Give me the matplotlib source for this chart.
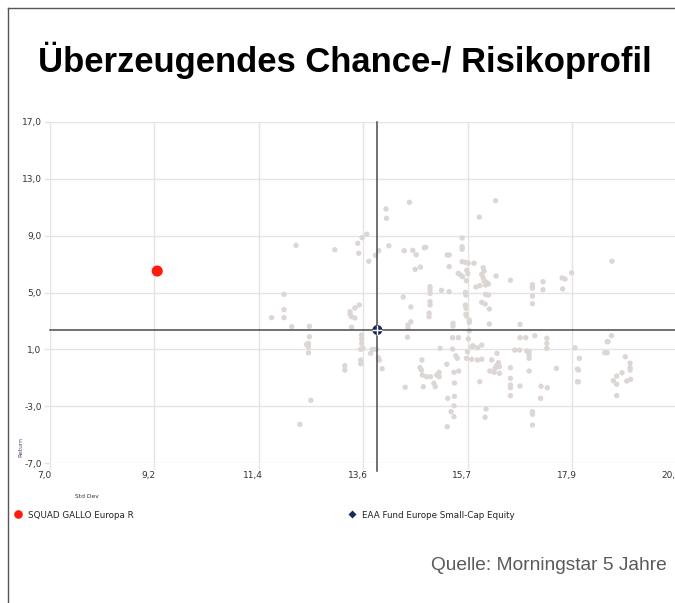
import matplotlib
matplotlib.use("Agg")
import matplotlib.pyplot as plt
from matplotlib.lines import Line2D
from matplotlib.transforms import ScaledTranslation
import numpy as np

W, H, DPI = 675, 603, 100

title = "Überzeugendes Chance-/ Risikoprofil"
source = "Quelle: Morningstar 5 Jahre"
x_label = "Std Dev"
y_label = "Return"
fund_name = "SQUAD GALLO Europa R"
bench_name = "EAA Fund Europe Small-Cap Equity"

fund_std = [9.24]
fund_ret = [6.51]
bench_std = [13.84]
bench_ret = [2.36]

peer_std = [
    12.14, 12.95, 11.89, 11.89, 11.63, 11.89, 12.05, 12.42, 12.42, 12.36,
    12.40, 12.40, 12.40, 12.45, 12.22, 13.16, 13.16, 13.46, 13.37, 13.27,
    13.27, 13.30, 13.37, 13.30, 13.51, 13.51, 13.51, 13.49, 13.54, 13.70,
    13.74, 13.82, 13.86, 13.88, 13.49, 13.49, 13.94, 13.62, 13.52, 13.43,
    13.45, 13.87, 13.80, 13.66, 14.02, 14.03, 14.08, 14.51, 16.31, 15.97,
    15.61, 15.61, 15.61, 14.40, 14.58, 14.65, 14.82, 14.85, 15.30, 15.34,
    15.61, 15.68, 15.74, 15.86, 14.74, 14.63, 15.34, 15.71, 15.73, 15.53,
    15.58, 15.62, 16.05, 16.07, 16.02, 16.05, 16.32, 16.62, 15.70, 16.07,
    16.12, 16.16, 16.10, 15.98, 15.90, 14.94, 14.94, 14.94, 15.18, 15.34,
    15.68, 15.69, 16.10, 16.16, 14.38, 16.02, 16.09, 16.18, 14.94, 14.94,
    14.54, 15.68, 15.69, 14.92, 14.92, 15.69, 18.74, 17.90, 17.70, 17.76,
    17.30, 17.08, 17.08, 17.08, 17.30, 17.71, 17.08, 17.08, 14.54, 14.48,
    14.48, 15.42, 15.42, 15.76, 15.76, 16.18, 15.76, 14.47, 15.41, 15.53,
    15.74, 15.15, 15.41, 15.81, 15.84, 15.93, 16.02, 15.72, 16.34, 15.48,
    15.51, 15.70, 15.81, 15.93, 16.02, 16.23, 14.77, 15.29, 16.37, 16.33,
    16.39, 16.30, 16.62, 14.73, 14.76, 15.44, 15.54, 16.19, 16.28, 16.39,
    15.13, 15.08, 15.13, 14.78, 14.87, 14.95, 16.62, 15.98, 15.02, 15.05,
    15.45, 16.62, 16.62, 14.42, 14.80, 15.45, 15.31, 15.44, 16.11, 15.38,
    15.44, 16.09, 15.30, 16.62, 15.70, 16.82, 16.94, 16.82, 17.13, 17.38,
    17.38, 17.38, 16.81, 16.96, 17.01, 17.01, 17.01, 17.97, 18.06, 18.73,
    18.64, 18.66, 18.59, 18.64, 19.02, 19.12, 19.12, 19.12, 17.01, 17.58,
    18.02, 18.04, 18.95, 18.84, 19.05, 19.13, 18.77, 18.84, 18.02, 18.04,
    16.82, 17.26, 17.39, 18.84, 17.25, 17.08, 17.08, 17.08, 16.71,
]
peer_ret = [
    8.32, 8.01, 4.87, 3.79, 3.23, 3.23, 2.59, 2.62, 1.89, 1.35,
    1.42, 1.18, 0.76, -2.59, -4.28, -0.15, -0.46, 4.12, 3.91, 3.65,
    3.47, 3.30, 3.21, 2.55, 2.01, 1.73, 1.42, 1.00, 1.07, 0.72,
    1.00, 1.00, 0.41, 0.25, 0.25, -0.01, -0.36, 9.10, 8.86, 8.46,
    7.76, 7.94, 7.62, 7.20, 10.88, 10.22, 8.29, 11.35, 11.46, 10.31,
    8.84, 8.22, 8.04, 7.94, 7.97, 7.66, 8.15, 8.18, 7.64, 7.64,
    7.17, 7.13, 7.06, 7.06, 6.79, 6.63, 6.82, 6.56, 6.32, 6.35,
    6.23, 6.11, 6.74, 6.51, 6.28, 6.04, 6.16, 5.86, 5.83, 5.81,
    5.72, 5.60, 5.53, 5.48, 5.39, 5.41, 5.18, 4.94, 5.15, 5.06,
    5.01, 4.82, 4.87, 4.82, 4.68, 4.31, 4.19, 3.84, 4.35, 4.12,
    3.98, 4.12, 3.89, 3.54, 3.30, 3.47, 7.20, 6.39, 6.02, 5.95,
    5.76, 5.55, 5.41, 5.30, 5.20, 5.25, 4.75, 4.21, 2.94, 2.71,
    2.48, 2.83, 2.64, 3.06, 2.90, 2.78, 2.31, 1.85, 1.82, 1.82,
    1.73, 1.07, 1.02, 1.18, 1.25, 1.11, 1.30, 0.83, 0.72, 0.55,
    0.37, 0.37, 0.30, 0.25, 0.30, 0.25, 0.25, -0.05, 0.06, -0.15,
    -0.22, -0.34, -0.29, -0.29, -0.46, -0.62, -0.53, -0.53, -0.62, -0.69,
    -0.62, -0.81, -0.93, -0.81, -0.93, -0.93, -1.04, -1.28, -1.39, -1.63,
    -1.37, -1.51, -1.70, -1.67, -1.63, -2.31, -2.45, -2.97, -3.20, -3.39,
    -3.74, -3.78, -4.45, -2.26, 3.35, 2.76, 1.82, 1.82, 1.96, 1.78,
    1.42, 1.07, 0.95, 0.88, 0.83, 0.60, 0.37, 1.11, 0.37, 1.96,
    1.54, 1.54, 0.76, 0.76, 0.48, 0.02, -0.29, -0.46, -0.53, -0.34,
    -0.39, -0.46, -0.65, -0.88, -1.23, -1.11, -1.21, -1.46, -1.28, -1.28,
    -1.58, -1.60, -1.70, -2.26, -2.45, -3.39, -3.57, -4.33, 0.95,
]

x_min, x_max = 7.0, 20.1
x_tick_labels = ["7,0", "9,2", "11,4", "13,6", "15,7", "17,9", "20,1"]
y_ticks = [-7, -3, 1, 5, 9, 13, 17]
y_tick_labels = ["-7,0", "-3,0", "1,0", "5,0", "9,0", "13,0", "17,0"]

PEER_C = "#dcd6d4"
FUND_C = "#ff1a0a"
BENCH_C = "#1a2a5e"
GRID_C = "#e4e4e4"
LINE_C = "#4a4a4a"
TICK_C = "#333333"

fig = plt.figure(figsize=(W / DPI, H / DPI), dpi=DPI)
fig.patch.set_facecolor("white")

ax = fig.add_axes([50 / W, (H - 463) / H, 627 / W, (463 - 122) / H])
ax.set_xlim(x_min, x_max)
ax.set_ylim(min(y_ticks), max(y_ticks))
ax.set_xticks(np.linspace(x_min, x_max, len(x_tick_labels)))
ax.set_xticklabels(x_tick_labels)
ax.set_yticks(y_ticks)
ax.set_yticklabels(y_tick_labels)
for s in ax.spines.values():
    s.set_visible(False)
ax.grid(True, color=GRID_C, linewidth=1.0, zorder=0)
ax.set_axisbelow(True)
ax.tick_params(axis="both", labelsize=6.5, labelcolor=TICK_C, color=GRID_C,
               length=4, width=1.0, pad=2)
# x tick labels sit a little to the left of their grid lines in the reference
shift = ScaledTranslation(-6 / DPI, 0, fig.dpi_scale_trans)
for lab in ax.get_xticklabels():
    lab.set_transform(lab.get_transform() + shift)

ax.scatter(peer_std, peer_ret, s=15, color=PEER_C, edgecolors="none", zorder=2)
ax.axhline(bench_ret[0], color=LINE_C, linewidth=1.1, zorder=3, clip_on=False)
ax.axvline(bench_std[0], ymin=-0.022, ymax=1.0, color=LINE_C, linewidth=1.1,
           zorder=3, clip_on=False)
ax.scatter(fund_std, fund_ret, s=64, color=FUND_C, edgecolors="none", zorder=4)
ax.scatter(bench_std, bench_ret, s=52, color=BENCH_C, marker="o",
           edgecolors="none", zorder=5)
ax.scatter(bench_std, bench_ret, s=44, color="white", marker="+",
           linewidths=1.0, zorder=6)

# frame lines around the slide
fig.add_artist(Line2D([8 / W, 8 / W], [0, 1 - 8 / H], color="#555555", linewidth=1.0))
fig.add_artist(Line2D([8 / W, 1], [1 - 8 / H, 1 - 8 / H], color="#555555", linewidth=1.0))

narrow = ["Liberation Sans Narrow", "Liberation Sans", "DejaVu Sans"]
t = fig.text(344.5 / W, 1 - 72 / H, title, ha="center", va="baseline",
             fontsize=30, fontweight="bold", family=narrow, color="black")
src = fig.text(667 / W, 1 - 570 / H, source, ha="right", va="baseline",
               fontsize=17, family=narrow, color="#5a5a5a")

fig.text(21 / W, 1 - 447 / H, y_label, rotation=90, ha="center", va="center",
         fontsize=4.3, color="#5a3f6e")
fig.text(87 / W, 1 - 497 / H, x_label, ha="center", va="center",
         fontsize=4.3, color="#333333")

h_fund = Line2D([], [], linestyle="none", marker="o", markersize=6.2,
                markerfacecolor=FUND_C, markeredgecolor="none")
h_bench = Line2D([], [], linestyle="none", marker="D", markersize=3.6,
                 markerfacecolor=BENCH_C, markeredgecolor="none")
leg1 = fig.legend(handles=[h_fund], labels=[fund_name], loc="center left",
                  bbox_to_anchor=(14.5 / W, 1 - 515 / H), frameon=False,
                  fontsize=6.3, handlelength=0.8, handletextpad=0.7,
                  borderpad=0, borderaxespad=0)
leg2 = fig.legend(handles=[h_bench], labels=[bench_name], loc="center left",
                  bbox_to_anchor=(348.5 / W, 1 - 515 / H), frameon=False,
                  fontsize=6.3, handlelength=0.8, handletextpad=0.7,
                  borderpad=0, borderaxespad=0)
for lg in (leg1, leg2):
    for tx in lg.get_texts():
        tx.set_color("#222222")

fig.canvas.draw()
r = fig.canvas.get_renderer()
for txt, target in ((t, 615.0), (src, 237.0)):
    w = txt.get_window_extent(renderer=r).width
    txt.set_fontsize(txt.get_fontsize() * target / w)

fig.savefig("out.png", dpi=DPI, facecolor="white")
